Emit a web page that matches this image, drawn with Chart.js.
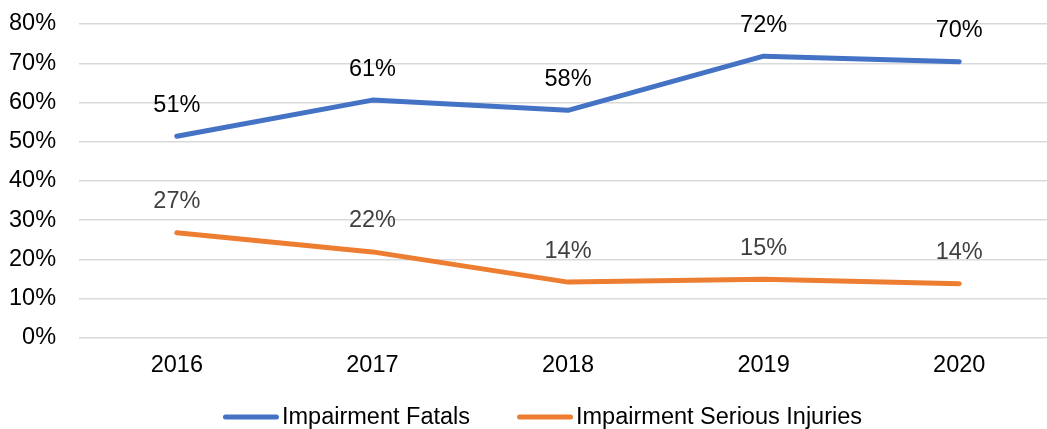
<!DOCTYPE html>
<html>
<head>
<meta charset="utf-8">
<script src="https://cdn.jsdelivr.net/npm/chart.js@4/dist/chart.umd.min.js"></script>
<style>
  html, body { margin: 0; padding: 0; background: #fff; overflow: hidden; }
  #wrap { position: relative; width: 1057px; height: 429px; }
</style>
</head>
<body>
<div id="wrap"><canvas id="c"></canvas></div>
<script>
const years = ['2016', '2017', '2018', '2019', '2020'];
const fatals = [51.4, 60.6, 58.0, 71.8, 70.4];
const seriousInjuries = [26.8, 21.9, 14.2, 14.9, 13.8];
const seriesNames = ['Impairment Fatals', 'Impairment Serious Injuries'];
const yTickMax = 80;
const yTickStep = 10;

const FONT = '"Liberation Sans", Arial, sans-serif';
const FS = 23.5;

const dataLabels = {
  id: 'dataLabels',
  afterDatasetsDraw(chart) {
    const ctx = chart.ctx;
    ctx.save();
    ctx.font = FS + 'px ' + FONT;
    ctx.textAlign = 'center';
    ctx.textBaseline = 'middle';
    chart.data.datasets.forEach((ds, i) => {
      const meta = chart.getDatasetMeta(i);
      ctx.fillStyle = ds.labelColor;
      meta.data.forEach((pt, j) => {
        ctx.fillText(Math.round(ds.data[j]) + '%', pt.x, pt.y - 31);
      });
    });
    ctx.restore();
  }
};

const customLegend = {
  id: 'customLegend',
  afterDraw(chart) {
    const ctx = chart.ctx;
    ctx.save();
    ctx.font = FS + 'px ' + FONT;
    ctx.textBaseline = 'middle';
    ctx.textAlign = 'left';
    const lineLen = 56, gap = 3, between = 47;
    const items = chart.data.datasets.map(ds => ({
      text: ds.label, color: ds.borderColor, w: ctx.measureText(ds.label).width
    }));
    let total = 0;
    items.forEach((it, i) => { total += lineLen + gap + it.w + (i < items.length - 1 ? between : 0); });
    let x = 542.5 - total / 2;
    const y = 417;
    items.forEach(it => {
      ctx.strokeStyle = it.color;
      ctx.lineWidth = 5;
      ctx.lineCap = 'round';
      ctx.beginPath();
      ctx.moveTo(x + 2.5, y);
      ctx.lineTo(x + lineLen - 2.5, y);
      ctx.stroke();
      ctx.fillStyle = '#000';
      ctx.fillText(it.text, x + lineLen + gap, y + 1);
      x += lineLen + gap + it.w + between;
    });
    ctx.restore();
  }
};

new Chart(document.getElementById('c'), {
  type: 'line',
  data: {
    labels: years,
    datasets: [
      { label: seriesNames[0], data: fatals, borderColor: '#4472C4', backgroundColor: '#4472C4', labelColor: '#000000' },
      { label: seriesNames[1], data: seriousInjuries, borderColor: '#ED7D31', backgroundColor: '#ED7D31', labelColor: '#404040' }
    ]
  },
  options: {
    responsive: true,
    maintainAspectRatio: false,
    animation: false,
    layout: { padding: { left: -14, top: 24, right: 0, bottom: 35 } },
    elements: {
      line: { borderWidth: 5, tension: 0, borderCapStyle: 'round', borderJoinStyle: 'round', fill: false },
      point: { radius: 0, hoverRadius: 0 }
    },
    plugins: {
      legend: { display: false },
      tooltip: { enabled: false }
    },
    scales: {
      x: {
        offset: true,
        grid: { display: false, drawTicks: false },
        border: { display: false },
        ticks: { color: '#000', padding: 14, font: { family: FONT, size: FS } },
        afterFit: s => { s.paddingLeft = 0; s.paddingRight = 0; }
      },
      y: {
        min: 0,
        max: yTickMax,
        grid: { color: '#d9d9d9', lineWidth: 1.4, drawTicks: false },
        border: { display: false },
        ticks: {
          stepSize: yTickStep,
          color: '#000',
          padding: 23,
          font: { family: FONT, size: FS },
          callback: v => v + '%'
        },
        afterFit: s => { s.paddingTop = 0; s.paddingBottom = 0; }
      }
    }
  },
  plugins: [dataLabels, customLegend]
});
</script>
</body>
</html>
